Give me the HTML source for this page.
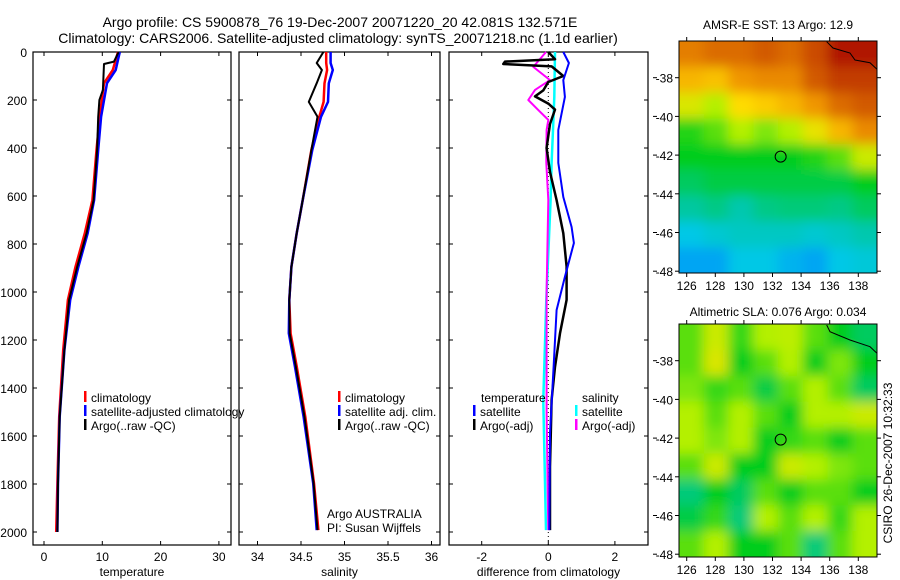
<!DOCTYPE html>
<html><head><meta charset="utf-8"><style>
html,body{margin:0;padding:0;background:#fff;width:900px;height:580px;overflow:hidden}
svg{display:block;font-family:"Liberation Sans",sans-serif}
</style></head><body>
<svg id="fig" width="900" height="580" viewBox="0 0 900 580" xmlns="http://www.w3.org/2000/svg">
<defs>
<filter id="blur" filterUnits="userSpaceOnUse" x="600" y="0" width="300" height="580"><feGaussianBlur stdDeviation="6"/></filter>
<clipPath id="clipMap1"><rect x="679" y="41" width="198" height="232"/></clipPath>
<clipPath id="clipMap2"><rect x="679" y="324" width="198" height="233"/></clipPath>
</defs>
<text x="340" y="27" font-size="14" text-anchor="middle">Argo profile: CS 5900878_76 19-Dec-2007 20071220_20 42.081S 132.571E</text>
<text x="338" y="43" font-size="14" text-anchor="middle">Climatology: CARS2006. Satellite-adjusted climatology: synTS_20071218.nc (1.1d earlier)</text>
<g id="layer"></g>
</svg>
<script>
// ---- profile data ----
const depthT = [0, 75, 130, 270, 408, 617, 755, 895, 1033, 1242, 1520, 1797, 2000];
const tempClim = [12.7, 11.8, 10.3, 9.55, 9.0, 8.3, 7.0, 5.4, 4.1, 3.3, 2.6, 2.3, 2.1];
const tempSat = [13.0, 12.3, 10.8, 9.8, 9.3, 8.6, 7.5, 5.9, 4.5, 3.5, 2.7, 2.4, 2.3];
const depthArgoT = [0, 15, 40, 50, 158, 200, 270, 408, 617, 755, 895, 1033, 1242, 1520, 1797, 2000];
const tempArgo = [12.8, 12.5, 12.0, 10.3, 10.1, 9.5, 9.3, 9.1, 8.5, 7.3, 5.7, 4.3, 3.5, 2.7, 2.4, 2.3];

const depthS = [0, 46, 75, 130, 208, 270, 408, 617, 755, 895, 1033, 1172, 1310, 1520, 1797, 1992];
const salClim = [34.79, 34.79, 34.80, 34.77, 34.76, 34.71, 34.62, 34.52, 34.45, 34.39, 34.365, 34.38, 34.45, 34.55, 34.65, 34.70];
const salSat = [34.84, 34.84, 34.865, 34.82, 34.81, 34.73, 34.63, 34.52, 34.45, 34.39, 34.365, 34.36, 34.43, 34.53, 34.64, 34.68];
const salArgo = [34.757, 34.68, 34.74, 34.68, 34.59, 34.69, 34.62, 34.52, 34.45, 34.39, 34.365, 34.37, 34.44, 34.54, 34.645, 34.69];

const depthD = [0, 46, 117, 187, 325, 462, 604, 729, 796, 937, 1075, 1312, 1587, 1992];
const diffTSat = [0.45, 0.62, 0.45, 0.5, 0.3, 0.3, 0.45, 0.7, 0.77, 0.5, 0.25, 0.16, 0.05, 0.03];
const depthDA = [0, 30, 40, 50, 60, 100, 125, 160, 185, 215, 240, 300, 400, 500, 617, 755, 894, 1033, 1172, 1312, 1450, 1728, 1992];
const diffTArgo = [0.0, 0.2, -1.3, -1.35, 0.1, 0.45, 0.0, -0.15, -0.4, 0.0, 0.2, 0.05, -0.05, 0.05, 0.25, 0.45, 0.55, 0.55, 0.35, 0.2, 0.1, 0.05, 0.05];
const depthDS = [0, 187, 325, 462, 617, 1033, 1450, 1992];
const diffSSat = [0.2, 0.18, 0.14, 0.1, 0.07, -0.06, -0.15, -0.07];
const depthDSA = [0, 62, 117, 158, 200, 242, 283, 325, 462, 617, 1000, 1500, 1992];
const diffSArgo = [-0.07, -0.45, 0.05, -0.4, -0.6, -0.3, 0.0, -0.05, -0.06, 0.0, -0.05, -0.05, 0.0];

// ---- map data (values on 0..1 colour scale) ----
const sstGrid = [
 [.82,.85,.85,.88,.85,.9,.97,.97],
 [.72,.7,.78,.8,.8,.88,.92,.92],
 [.6,.55,.65,.68,.72,.78,.85,.88],
 [.47,.5,.55,.52,.55,.62,.72,.8],
 [.45,.45,.45,.45,.45,.47,.5,.58],
 [.4,.42,.42,.42,.42,.42,.42,.45],
 [.35,.37,.33,.37,.38,.38,.37,.4],
 [.25,.28,.3,.3,.3,.28,.3,.33],
 [.2,.2,.25,.25,.22,.2,.25,.27]];
const slaGrid = [
 [.5,.58,.48,.55,.56,.5,.45,.4],
 [.5,.6,.45,.5,.55,.45,.52,.45],
 [.52,.48,.5,.42,.5,.55,.5,.4],
 [.55,.5,.55,.5,.45,.55,.55,.58],
 [.55,.52,.55,.45,.48,.5,.45,.5],
 [.5,.58,.45,.45,.58,.55,.52,.5],
 [.38,.45,.4,.5,.45,.5,.5,.45],
 [.42,.48,.38,.55,.5,.55,.48,.55],
 [.5,.55,.45,.45,.5,.38,.5,.55]];
const lonTicks = [126,128,130,132,134,136,138];
const latTicks = [-38,-40,-42,-44,-46,-48];
const depthTicks = [0,200,400,600,800,1000,1200,1400,1600,1800,2000];
const tTicks = [0,10,20,30];
const sTicks = [34,34.5,35,35.5,36];
const dTicks = [-2,0,2];

const NS = "http://www.w3.org/2000/svg";
const L = document.getElementById('layer');
function mk(tag, attrs, parent){const e=document.createElementNS(NS,tag);for(const k in attrs)e.setAttribute(k,attrs[k]);(parent||L).appendChild(e);return e;}

const yD = d => 52 + d*0.24;
const xT = v => 44 + v*5.83;
const xS = v => 257.5 + (v-34)*87;
const xDf = v => 548.3 + v*33.3;

function panel(x0,x1,ticks,xf,title,name,showY){
  const r = mk('rect',{x:x0,y:52,width:x1-x0,height:493,fill:'none',stroke:'#000','stroke-width':1.2});
  
  
  depthTicks.forEach(d=>{
    mk('line',{x1:x0,x2:x0+4,y1:yD(d),y2:yD(d),stroke:'#000'});
    mk('line',{x1:x1,x2:x1-4,y1:yD(d),y2:yD(d),stroke:'#000'});
    if(showY){const t=mk('text',{x:27,y:yD(d)+5,'font-size':12,'text-anchor':'end'});t.textContent=d;
      
      }
  });
  ticks.forEach(v=>{
    const x=xf(v);
    mk('line',{x1:x,x2:x,y1:52,y2:56,stroke:'#000'});
    mk('line',{x1:x,x2:x,y1:545,y2:541,stroke:'#000'});
    const t=mk('text',{x:x,y:561,'font-size':12,'text-anchor':'middle'});t.textContent=v;
    
    
  });
  const tt=mk('text',{x:(x0+x1)/2,y:576,'font-size':12,'text-anchor':'middle'});tt.textContent=title;
  
  
}
function line(xs,ds,xf,color,name,w){
  const p = xs.map((v,i)=>xf(v).toFixed(1)+','+yD(ds[i]).toFixed(1)).join(' ');
  const e = mk('polyline',{points:p,fill:'none',stroke:color,'stroke-width':w||2.5,'stroke-linejoin':'round'});
  
  
}
function legend(x,y,color,label,name){
  if(color){mk('rect',{x:x,y:y-6,width:2.5,height:11,fill:color});}
  const t=mk('text',{x:x+7,y:y+5,'font-size':12});t.textContent=label;
  
  
}

panel(33,231,tTicks,xT,'temperature','temperature-panel',true);
panel(239,440,sTicks,xS,'salinity','salinity-panel',false);
panel(449,648,dTicks,xDf,'difference from climatology','difference-panel',false);

line(tempClim,depthT,xT,'#f00','temp-climatology-line');
line(tempSat,depthT,xT,'#00f','temp-satellite-line');
line(tempArgo,depthArgoT,xT,'#000','temp-argo-line',2);

line(salClim,depthS,xS,'#f00','sal-climatology-line');
line(salSat,depthS,xS,'#00f','sal-satellite-line');
line(salArgo,depthS,xS,'#000','sal-argo-line',2);

mk('line',{x1:548.3,x2:548.3,y1:52,y2:545,stroke:'#000','stroke-dasharray':'1,3'});
line(diffSSat,depthDS,xDf,'#0ff','diff-sal-satellite-line');
line(diffSArgo,depthDSA,xDf,'#f0f','diff-sal-argo-line',2);
line(diffTArgo,depthDA,xDf,'#000','diff-temp-argo-line');
line(diffTSat,depthD,xDf,'#00f','diff-temp-satellite-line',2);

legend(84,397,'#f00','climatology','legend-t-climatology');
legend(84,411,'#00f','satellite-adjusted climatology','legend-t-satellite');
legend(84,425,'#000','Argo(..raw -QC)','legend-t-argo');
legend(338,397,'#f00','climatology','legend-s-climatology');
legend(338,411,'#00f','satellite adj. clim.','legend-s-satellite');
legend(338,425,'#000','Argo(..raw -QC)','legend-s-argo');
legend(474,397,null,'temperature','legend-diff-temperature-header');
legend(473,411,'#00f','satellite','legend-diff-t-satellite');
legend(473,425,'#000','Argo(-adj)','legend-diff-t-argo');
legend(575,397,null,'salinity','legend-diff-salinity-header');
legend(575,411,'#0ff','satellite','legend-diff-s-satellite');
legend(575,425,'#f0f','Argo(-adj)','legend-diff-s-argo');
const a1=mk('text',{x:327,y:518,'font-size':12});a1.textContent='Argo AUSTRALIA';


const a2=mk('text',{x:327,y:532,'font-size':12});a2.textContent='PI: Susan Wijffels';



// colour map
const stops=[[0.0,[0,60,255]],[0.15,[0,130,255]],[0.25,[0,200,230]],[0.35,[0,200,160]],[0.45,[0,205,30]],[0.55,[180,240,0]],[0.65,[255,220,0]],[0.78,[240,150,0]],[0.88,[210,90,0]],[1.0,[165,0,0]]];
function cmap(v){for(let i=1;i<stops.length;i++){if(v<=stops[i][0]){const a=stops[i-1],b=stops[i],t=(v-a[0])/(b[0]-a[0]);return 'rgb('+a[1].map((c,k)=>Math.round(c+(b[1][k]-c)*t)).join(',')+')';}}return 'rgb(165,0,0)';}

function map(grid,y0,h,title,titleY,name,clip,coast){
  const x0=679,w=198;
  const xL = lon => 686.7 + (lon-126)*14.3;
  const yL = lat => (y0+36.7) + (-38-lat)*19.35;
  const g=mk('g',{'clip-path':'url(#'+clip+')'});
  
  
  const inner=mk('g',{filter:'url(#blur)'},g);
  const rows=grid.length, cols=grid[0].length, cw=w/cols, ch=h/rows;
  grid.forEach((row,r)=>row.forEach((v,c)=>{
    const rx=x0+c*cw-(c===0?15:0), ry=y0+r*ch-(r===0?15:0);
    const rw=cw+0.5+(c===0?15:0)+(c===cols-1?15:0), rh=ch+0.5+(r===0?15:0)+(r===rows-1?15:0);
    const cell=mk('rect',{x:rx,y:ry,width:rw,height:rh,fill:cmap(v)},inner);
    
    
  }));
  mk('polyline',{points:coast.map(p=>p[0]+','+(y0+p[1])).join(' '),fill:'none',stroke:'#000','stroke-width':1},g);
  const fr=mk('rect',{x:x0,y:y0,width:w,height:h,fill:'none',stroke:'#000','stroke-width':1});
  
  
  lonTicks.forEach(l=>{const x=xL(l);mk('line',{x1:x,x2:x,y1:y0,y2:y0-4,stroke:'#000'});mk('line',{x1:x,x2:x,y1:y0+h,y2:y0+h+4,stroke:'#000'});
    const t=mk('text',{x:x,y:y0+h+17,'font-size':12,'text-anchor':'middle'});t.textContent=l;
    
    });
  latTicks.forEach(l=>{const y=yL(l);mk('line',{x1:x0,x2:x0-4,y1:y,y2:y,stroke:'#000'});mk('line',{x1:x0+w,x2:x0+w+4,y1:y,y2:y,stroke:'#000'});
    mk('line',{x1:653,x2:657,y1:y,y2:y,stroke:'#000'});
    const t=mk('text',{x:673,y:y+5,'font-size':12,'text-anchor':'end'});t.textContent=l;
    
    });
  const c=mk('circle',{cx:xL(132.57),cy:yL(-42.08),r:5.5,fill:'none',stroke:'#000','stroke-width':1});
  
  
  const tt=mk('text',{x:x0+w/2,y:titleY,'font-size':12,'text-anchor':'middle'});tt.textContent=title;
  
  
}
const coast1=[[826.7,0.7],[833,7],[850,12],[855,19],[870,21.7],[877,28.3]];
const coast2=[[826.7,1],[830,7.7],[850,16],[870,22.7],[877,29.3]];
map(sstGrid,41,232,'AMSR-E SST: 13 Argo: 12.9',29,'sst-map','clipMap1',coast1);
map(slaGrid,324,233,'Altimetric SLA: 0.076 Argo: 0.034',316,'sla-map','clipMap2',coast2);

const cs=mk('text',{x:0,y:0,'font-size':12,'text-anchor':'middle',transform:'translate(892,463) rotate(-90)'});
cs.textContent='CSIRO 26-Dec-2007 10:32:33';


</script>
</body></html>
